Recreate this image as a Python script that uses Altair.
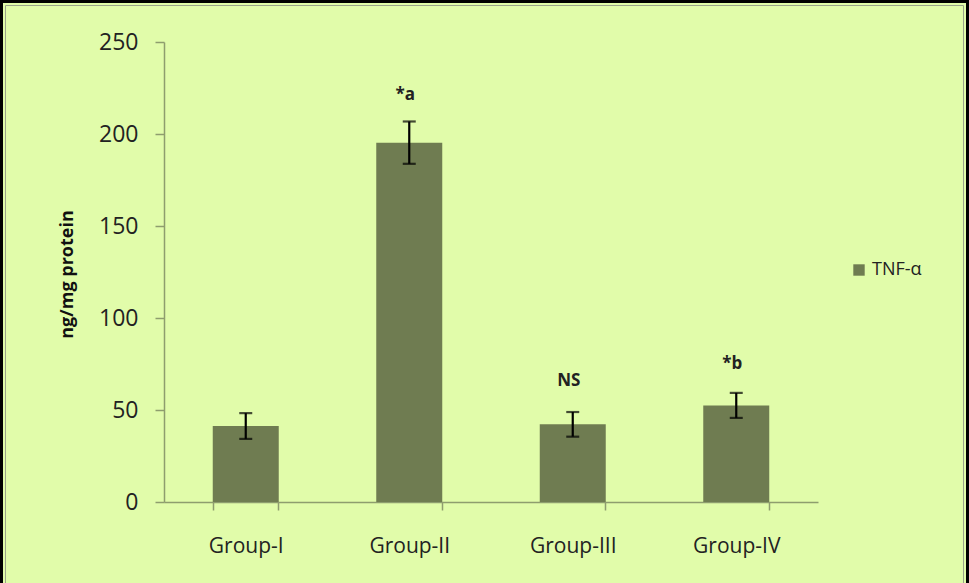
import altair as alt
import pandas as pd

groups = ["Group-I", "Group-II", "Group-III", "Group-IV"]
means = [41.3, 195.3, 42.2, 52.5]
errors = [7.0, 11.5, 6.7, 6.8]
labels = ["", "*a", "NS", "*b"]
label_pos = [0, 221, 66, 75]
series = "TNF-α"

df = pd.DataFrame({
    "group": groups,
    "mean": means,
    "lo": [m - e for m, e in zip(means, errors)],
    "hi": [m + e for m, e in zip(means, errors)],
    "label": labels,
    "label_y": label_pos,
    "series": [series] * len(groups),
})

BAR = "#6f7c51"
AXIS = "#8e9d6e"
BG = "#e1fcaa"
FONT = "Open Sans"
W, H = 654, 460

x = alt.X("group:N", sort=groups, title=None,
          scale=alt.Scale(paddingInner=0.6, paddingOuter=0.3),
          axis=alt.Axis(labelAngle=0, labelFontSize=21, labelFont=FONT, labelColor="#222222",
                        labelPadding=25, domainColor=AXIS, tickColor=AXIS, tickSize=8,
                        tickBand="extent", domainWidth=1.5, tickWidth=1.5))
y = alt.Y("mean:Q", title="ng/mg protein",
          scale=alt.Scale(domain=[0, 250], nice=False),
          axis=alt.Axis(values=[0, 50, 100, 150, 200, 250], grid=False, labelFontSize=23,
                        labelFont=FONT, labelColor="#222222", labelPadding=17,
                        domainColor=AXIS, tickColor=AXIS, tickSize=9, domainWidth=1.5, tickWidth=1.5,
                        titleFont=FONT, titleFontSize=18, titleFontWeight="bold", titleColor="#111111",
                        titleAngle=270, titleX=-97, titleY=232, titleAlign="center",
                        titleBaseline="middle"))

base = alt.Chart(df)

bars = base.mark_bar(size=66).encode(
    x=x, y=y,
    color=alt.Color("series:N", scale=alt.Scale(domain=[series], range=[BAR]),
                    legend=alt.Legend(title=None, orient="none", legendX=686, legendY=219,
                                      symbolType="square", symbolSize=130, symbolStrokeWidth=0,
                                      labelFontSize=18, labelFont=FONT, labelColor="#222222",
                                      labelOffset=4)),
)

rules = base.mark_rule(color="black", strokeWidth=2.2).encode(
    x=alt.X("group:N", sort=groups), y="lo:Q", y2="hi:Q")

caps_lo = base.mark_tick(color="black", size=13, thickness=2.2).encode(
    x=alt.X("group:N", sort=groups), y="lo:Q")
caps_hi = base.mark_tick(color="black", size=13, thickness=2.2).encode(
    x=alt.X("group:N", sort=groups), y="hi:Q")

texts = base.transform_filter(alt.datum.label != "").mark_text(
    fontWeight="bold", fontSize=17, font=FONT, color="#222222", dx=-4).encode(
    x=alt.X("group:N", sort=groups), y="label_y:Q", text="label:N")

frame = alt.Chart(pd.DataFrame({"k": [0]})).mark_rect(
    fill=None, stroke="black", strokeWidth=3).encode(
    x=alt.value(-162.5), x2=alt.value(969 - 164 - 1.5),
    y=alt.value(-40.5), y2=alt.value(583 - 42 + 10))
frame2 = alt.Chart(pd.DataFrame({"k": [0]})).mark_rect(
    fill=None, stroke="#9aa38a", strokeWidth=1).encode(
    x=alt.value(-158.5), x2=alt.value(969 - 164 - 5.5),
    y=alt.value(-36.5), y2=alt.value(583 - 42 + 10))

chart = alt.layer(bars, rules, caps_lo, caps_hi, texts, frame, frame2).properties(
    width=W, height=H,
    background=BG,
    padding={"left": 164, "top": 42, "right": 151, "bottom": 81},
    autosize=alt.AutoSizeParams(type="none"),
).configure_view(stroke=None)

chart.save("out.html", embed_options={"renderer": "svg", "actions": False})
